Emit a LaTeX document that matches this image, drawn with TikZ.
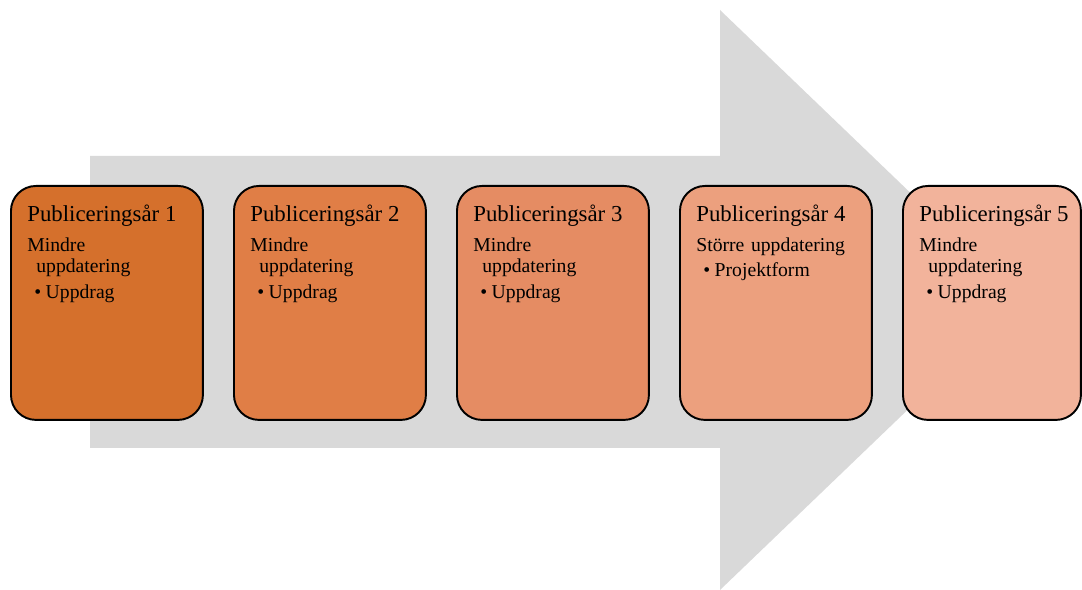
\documentclass[tikz,border=0pt]{standalone}
\usepackage{fontspec}
\setmainfont{Liberation Serif}
\definecolor{arrowgrey}{HTML}{D9D9D9}
\definecolor{yearA}{HTML}{D5702C}
\definecolor{yearB}{HTML}{E07E46}
\definecolor{yearC}{HTML}{E58C63}
\definecolor{yearD}{HTML}{ECA07E}
\definecolor{yearE}{HTML}{F2B39B}
\tikzset{
yearbox/.style={draw=black, line width=1.1pt, rounded corners=0.5cm, minimum height=4.68cm, anchor=north west, inner sep=0pt},
yeartitle/.style={anchor=base west, inner sep=0pt, font=\fontsize{13}{15}\selectfont},
yeartext/.style={anchor=base west, inner sep=0pt, text width=3.3cm, align=left, font=\fontsize{11.2}{11.9}\selectfont}
}
\newcommand{\yearbox}[6][3.84cm]{%
\node[yearbox, minimum width=#1, fill=#4] (#2) at (#3,185) {};
\node[yeartitle] (#2-title) at (#3+17,222) {#5};
\node[yeartext] (#2-text) at (#3+17,252) {#6};
}
\newcommand{\bulletitem}[1]{\hspace*{0.14cm}\textbullet\hspace{0.09cm}#1}
\newcommand{\minortext}{Mindre\\\hspace*{0.18cm}uppdatering\\[2.6pt]\bulletitem{Uppdrag}}

\begin{document}
\begin{tikzpicture}[x=0.02cm, y=-0.02cm]
\useasboundingbox (0,0) rectangle (1082,590);

% the big arrow behind
\fill[arrowgrey] (90,156) -- (720,156) -- (720,10) -- (1022,300)
  -- (720,590) -- (720,448) -- (90,448) -- cycle;

\yearbox{y1}{10}{yearA}{Publiceringsår 1}{\minortext}
\yearbox{y2}{233}{yearB}{Publiceringsår 2}{\minortext}
\yearbox{y3}{456}{yearC}{Publiceringsår 3}{\minortext}
\yearbox{y4}{679}{yearD}{Publiceringsår 4}{Större uppdatering\\[2pt]\bulletitem{Projektform}}
\yearbox[3.56cm]{y5}{902}{yearE}{Publiceringsår 5}{\minortext}

\end{tikzpicture}
\end{document}
